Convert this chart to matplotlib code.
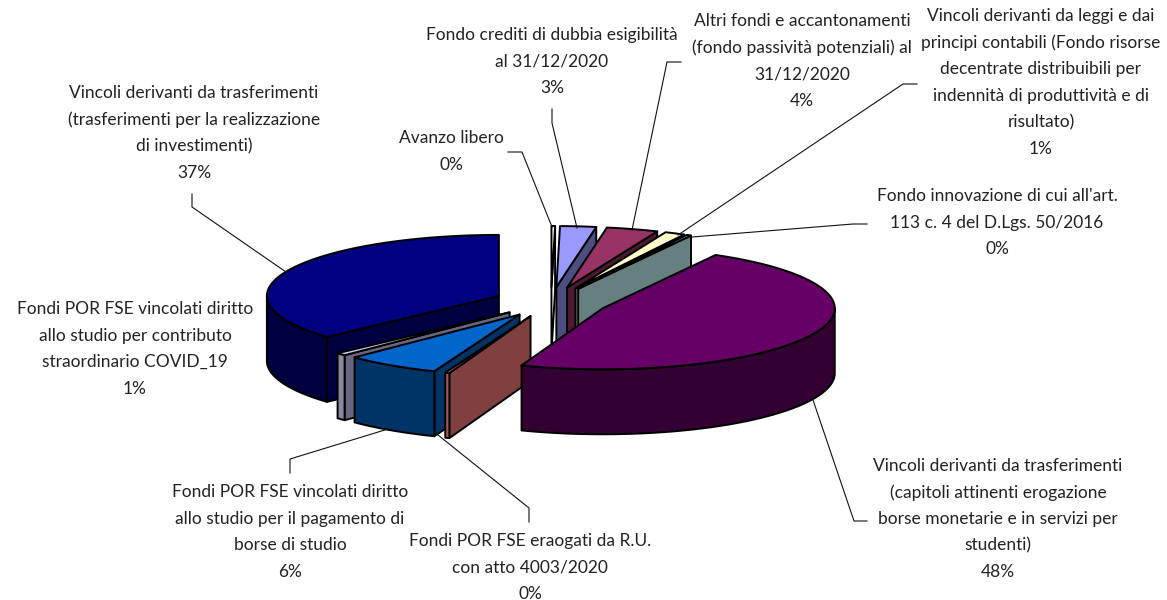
import numpy as np
import matplotlib
matplotlib.use("Agg")
import matplotlib.pyplot as plt
from matplotlib.patches import Polygon

# slices clockwise from 12 o'clock, values in percent
SLICE_NAMES = [
    "Avanzo libero",
    "Fondo crediti",
    "Altri fondi",
    "Vincoli leggi",
    "Fondo innovazione",
    "Vincoli erogazione",
    "POR eraogati",
    "POR borse",
    "POR COVID",
    "Vincoli investimenti",
]
SHARES = [0.25, 2.5, 3.6, 1.4, 0.33, 47.6, 0.3, 6.6, 0.7, 36.7]
TOP_COLORS = ["#FFFFFF", "#9999FF", "#993366", "#FFFFCC", "#CCFFFF",
              "#660066", "#FF8080", "#0066CC", "#CCCCFF", "#000080"]
WALL_COLORS = ["#FFFFFF", "#4D4D80", "#4D1A33", "#808066", "#668080",
               "#330033", "#804040", "#003366", "#666680", "#000040"]
RIM_COLORS = ["#FFFFFF", "#4D4D80", "#4D1A33", "#808066", "#668080",
              "#330033", "#A85858", "#003366", "#88889F", "#000040"]
DRAW_ORDER = [0, 1, 2, 3, 4, 9, 8, 7, 6, 5]

LABEL_LINES = [
    ["Avanzo libero", "0%"],
    ["Fondo crediti di dubbia esigibilità", "al 31/12/2020", "3%"],
    ["Altri fondi e accantonamenti", "(fondo passività potenziali) al", "31/12/2020", "4%"],
    ["Vincoli derivanti da leggi e dai", "principi contabili (Fondo risorse",
     "decentrate distribuibili per", "indennità di produttività e di", "risultato)", "1%"],
    ["Fondo innovazione di cui all'art.", "113 c. 4 del D.Lgs. 50/2016", "0%"],
    ["Vincoli derivanti da trasferimenti", "(capitoli attinenti erogazione",
     "borse monetarie e in servizi per", "studenti)", "48%"],
    ["Fondi POR FSE eraogati da R.U.", "con atto 4003/2020", "0%"],
    ["Fondi POR FSE vincolati diritto", "allo studio per il pagamento di", "borse di studio", "6%"],
    ["Fondi POR FSE vincolati diritto", "allo studio per contributo", "straordinario COVID_19", "1%"],
    ["Vincoli derivanti da trasferimenti", "(trasferimenti per la realizzazione",
     "di investimenti)", "37%"],
]

# layout, in pixels of the 1167x600 picture
LABEL_X = [451, 552, 802, 1041, 997, 998, 530, 290, 135, 194]
LABEL_Y = [138, 35, 21, 16, 196, 466, 541, 492, 309, 93]
LINE_STEP = 26.6
LEADERS = [
    [(508, 152), (522, 152), (552, 227)],
    [(552, 109), (552, 123), (577, 228)],
    [(681, 62), (667, 62), (632, 230)],
    [(917, 84), (903, 84), (678, 235)],
    [(867, 224), (853, 224), (692, 237)],
    [(867, 521), (854, 521), (813, 400)],
    [(529, 522), (529, 508), (438, 435)],
    [(290, 473), (290, 459), (388, 429)],
    None,
    [(192, 194), (192, 207), (286, 272)],
]

CENTER_X, CENTER_Y = 551, 302
RADIUS_X, RADIUS_Y = 232, 61
EXPLODE = 57
DEPTH = 65
FONT = "Lato"
FONT_SIZE = 12.5


def project(cx, cy, theta, radius=1.0):
    """pie plane to picture; theta in degrees clockwise from the top"""
    t = np.radians(theta)
    return cx + radius * RADIUS_X * np.sin(t), cy - radius * RADIUS_Y * np.cos(t)


def arc_points(cx, cy, a, b):
    n = max(2, int(abs(b - a)) + 2)
    xs, ys = project(cx, cy, np.linspace(a, b, n))
    return list(zip(xs, ys))


def draw_slice(ax, a, b, top, wall, rim):
    # exploded along the bisector
    mid = np.radians((a + b) / 2)
    cx = CENTER_X + EXPLODE * np.sin(mid)
    cy = CENTER_Y - EXPLODE * RADIUS_Y / RADIUS_X * np.cos(mid)
    style = dict(edgecolor="black", linewidth=1.4, joinstyle="round")

    # radial face that looks at the viewer
    edge = None
    if 0 <= b < 90:
        edge = b
    elif 180 <= a < 270:
        edge = a
    if edge is not None:
        p = project(cx, cy, edge)
        face = [(cx, cy), p, (p[0], p[1] + DEPTH), (cx, cy + DEPTH)]
        ax.add_patch(Polygon(face, closed=True, facecolor=wall, **style))

    # outer wall, front half only
    lo, hi = max(a, 90), min(b, 270)
    if lo < hi:
        upper = arc_points(cx, cy, lo, hi)
        lower = [(x, y + DEPTH) for x, y in reversed(upper)]
        ax.add_patch(Polygon(upper + lower, closed=True, facecolor=rim, **style))

    ax.add_patch(Polygon([(cx, cy)] + arc_points(cx, cy, a, b), closed=True,
                         facecolor=top, **style))


fig = plt.figure(figsize=(11.67, 6.0), dpi=100)
ax = fig.add_axes([0, 0, 1, 1])
ax.set_xlim(0, 1167)
ax.set_ylim(600, 0)
ax.axis("off")

shares = np.array(SHARES, dtype=float)
ends = np.cumsum(shares) / shares.sum() * 360
starts = np.concatenate([[0], ends[:-1]])

for i in DRAW_ORDER:
    draw_slice(ax, starts[i], ends[i], TOP_COLORS[i], WALL_COLORS[i], RIM_COLORS[i])

for pts in LEADERS:
    if pts is None:
        continue
    ax.plot([p[0] for p in pts], [p[1] for p in pts], color="#111111", linewidth=0.8)

for lines, x, y in zip(LABEL_LINES, LABEL_X, LABEL_Y):
    for k, line in enumerate(lines):
        ax.text(x, y + k * LINE_STEP, line, ha="center", va="center",
                fontsize=FONT_SIZE, family=FONT, color="#222222")

fig.savefig("out.png", dpi=100)
